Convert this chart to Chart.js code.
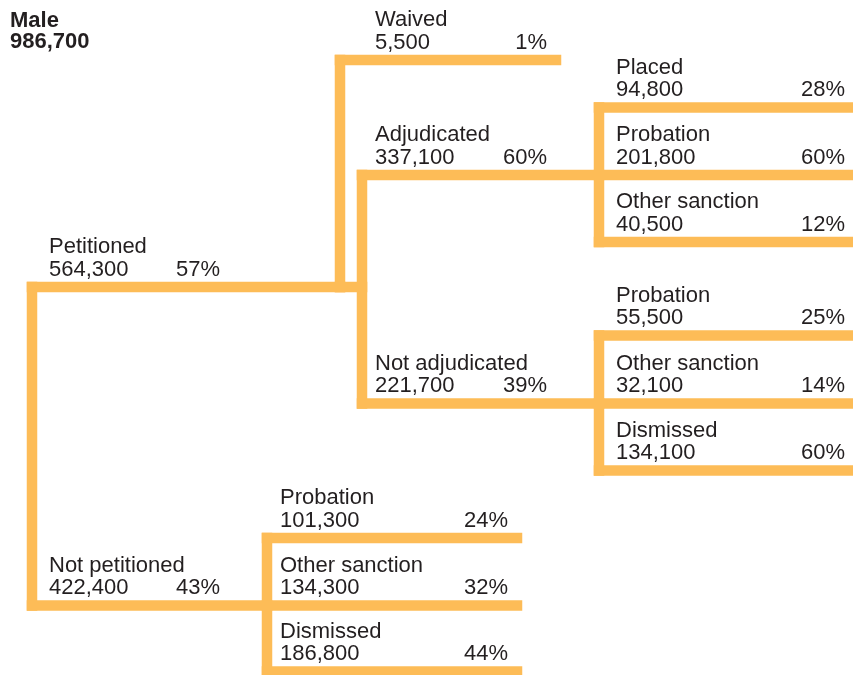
<!DOCTYPE html>
<html>
<head>
<meta charset="utf-8">
<script src="https://cdn.jsdelivr.net/npm/chart.js@4/dist/chart.umd.min.js"></script>
<style>
  html, body { margin: 0; padding: 0; background: #fff; }
  #wrap { position: relative; width: 853px; height: 675px; }
</style>
</head>
<body>
<div id="wrap"><canvas id="tree"></canvas></div>
<script>
// tree nodes, index 0 is the root ('' = unlabeled connector)
const names = ['Male', 'Petitioned', 'Not petitioned', 'Waived', '', 'Adjudicated', 'Not adjudicated',
               'Placed', 'Probation', 'Other sanction',
               'Probation', 'Other sanction', 'Dismissed',
               'Probation', 'Other sanction', 'Dismissed'];
const counts = [986700, 564300, 422400, 5500, null, 337100, 221700,
                94800, 201800, 40500,
                55500, 32100, 134100,
                101300, 134300, 186800];
const percents = [null, 57, 43, 1, null, 60, 39,
                  28, 60, 12,
                  25, 14, 60,
                  24, 32, 44];
const parents = [-1, 0, 0, 1, 1, 4, 4,
                 5, 5, 5,
                 6, 6, 6,
                 2, 2, 2];

// layout, in canvas units
const rowY   = [null, 287, 605.5, 60, 287, 175, 403.5, 107.5, 175, 242, 335.5, 403.5, 470.5, 538, 605.5, 671.5];
const splitX = [32, 340, 267, 556, 362, 599, 599, 865, 865, 865, 865, 865, 865, 517, 517, 517];
const textX  = [10, 49, 49, 375, null, 375, 375, 616, 616, 616, 616, 616, 616, 280, 280, 280];
const pctX   = [null, 220, 220, 547, null, 547, 547, 845, 845, 845, 845, 845, 845, 508, 508, 508];

const orange = '#fdbc57';
const ink = '#231f20';
const font = '"Liberation Sans", Arial, Helvetica, sans-serif';

// build the line segments from the tree
const segments = [];
names.forEach((n, i) => {
  if (i > 0) {
    const p = parents[i];
    segments.push([{x: splitX[p], y: rowY[i]}, {x: splitX[i], y: rowY[i]}]);
  }
  const kids = rowY.filter((y, k) => parents[k] === i);
  if (kids.length) {
    segments.push([{x: splitX[i], y: Math.min(...kids)}, {x: splitX[i], y: Math.max(...kids)}]);
  }
});

const datasets = segments.map(pts => ({
  data: pts,
  showLine: true,
  borderColor: orange,
  borderWidth: 10.5,
  borderCapStyle: 'square',
  pointRadius: 0,
  pointHoverRadius: 0
}));

const fmt = v => v.toLocaleString('en-US');

const labelPlugin = {
  id: 'treeLabels',
  afterDatasetsDraw(chart) {
    const ctx = chart.ctx;
    const xs = chart.scales.x, ys = chart.scales.y;
    ctx.save();
    ctx.fillStyle = ink;
    ctx.textBaseline = 'alphabetic';

    // root title
    ctx.font = 'bold 22px ' + font;
    ctx.textAlign = 'left';
    ctx.fillText(names[0], xs.getPixelForValue(textX[0]), ys.getPixelForValue(26.5));
    ctx.fillText(fmt(counts[0]), xs.getPixelForValue(textX[0]), ys.getPixelForValue(48));

    ctx.font = '22px ' + font;
    for (let i = 1; i < names.length; i++) {
      if (!names[i]) continue;
      const x = xs.getPixelForValue(textX[i]);
      ctx.textAlign = 'left';
      ctx.fillText(names[i], x, ys.getPixelForValue(rowY[i] - 34));
      ctx.fillText(fmt(counts[i]), x, ys.getPixelForValue(rowY[i] - 11.5));
      ctx.textAlign = 'right';
      ctx.fillText(percents[i] + '%', xs.getPixelForValue(pctX[i]), ys.getPixelForValue(rowY[i] - 11.5));
    }
    ctx.restore();
  }
};

new Chart(document.getElementById('tree'), {
  type: 'scatter',
  data: { datasets },
  options: {
    responsive: true,
    maintainAspectRatio: false,
    animation: false,
    layout: { padding: 0 },
    plugins: { legend: { display: false }, tooltip: { enabled: false } },
    scales: {
      x: { type: 'linear', min: 0, max: 853, display: false },
      y: { type: 'linear', min: 0, max: 675, reverse: true, display: false }
    }
  },
  plugins: [labelPlugin]
});
</script>
</body>
</html>
